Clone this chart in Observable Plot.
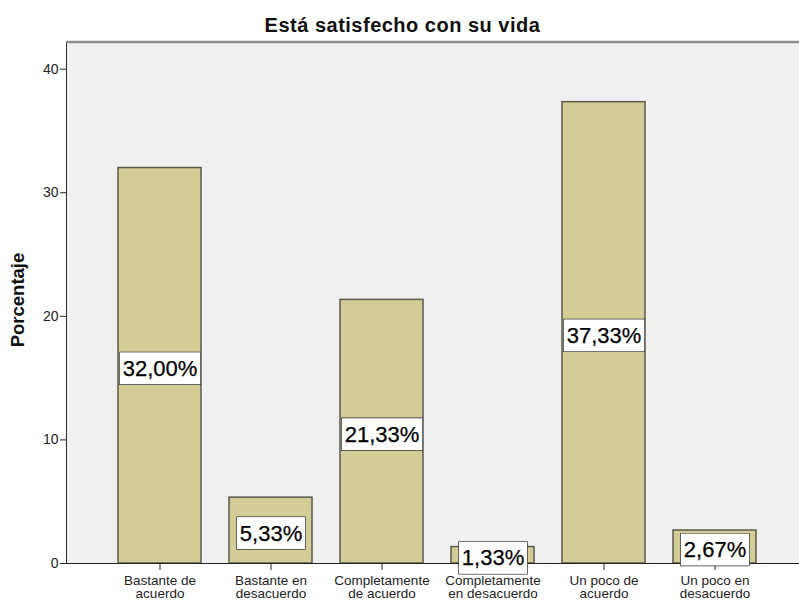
<!DOCTYPE html>
<html>
<head>
<meta charset="utf-8">
<script src="https://cdn.jsdelivr.net/npm/d3@7"></script>
<script src="https://cdn.jsdelivr.net/npm/@observablehq/plot@0.6"></script>
<style>
  html, body { margin: 0; padding: 0; background: #fff; overflow: hidden; }
  #wrap { position: relative; width: 799px; height: 602px; overflow: hidden; }
  #title { position: absolute; left: 3px; top: 14px; width: 799px; text-align: center; letter-spacing: 0.5px;
           font: bold 20px "Liberation Sans", Arial, sans-serif; color: #111; line-height: 22px; }
  #ylabel { position: absolute; left: 18px; top: 300px; transform: translate(-50%, -50%) rotate(-90deg);
            font: bold 18.5px "Liberation Sans", Arial, sans-serif; color: #111; white-space: nowrap; }
  svg { overflow: hidden; }
</style>
</head>
<body>
<div id="wrap">
  <div id="chart"></div>
  <div id="title">Está satisfecho con su vida</div>
  <div id="ylabel">Porcentaje</div>
</div>
<script>
const categories = ["Bastante de acuerdo", "Bastante en desacuerdo", "Completamente de acuerdo",
                    "Completamente en desacuerdo", "Un poco de acuerdo", "Un poco en desacuerdo"];
const categoryLabels = ["Bastante de\nacuerdo", "Bastante en\ndesacuerdo", "Completamente\nde acuerdo",
                        "Completamente\nen desacuerdo", "Un poco de\nacuerdo", "Un poco en\ndesacuerdo"];
const percentages = [32.00, 5.33, 21.33, 1.33, 37.33, 2.67];
const yTicks = [0, 10, 20, 30, 40];

const data = categories.map((c, i) => ({
  cat: c,
  value: percentages[i],
  label: d3.format(".2f")(percentages[i]).replace(".", ",") + "%"
}));
const tickLabel = new Map(categories.map((c, i) => [c, categoryLabels[i]]));

const svg = Plot.plot({
  width: 799,
  height: 602,
  marginLeft: 66,
  marginRight: -10,
  marginTop: 41.5,
  marginBottom: 39,
  style: { fontFamily: "'Liberation Sans', Arial, sans-serif", fontSize: "14px", background: "transparent", color: "#222" },
  x: { domain: categories, paddingInner: 0.25, paddingOuter: 0.457, axis: null },
  y: { domain: [0, 42.2], axis: null },
  marks: [
    Plot.frame({ fill: "#f0f0f0", stroke: "#2a2a2a" }),
    Plot.ruleY([42.2], { stroke: "#8c8c8c", strokeWidth: 2.5 }),
    Plot.barY(data, { x: "cat", y: "value", fill: "#d3ce97", stroke: "#5a5a4c", strokeWidth: 1.5 }),
    Plot.ruleY([0], { stroke: "#222" }),
    Plot.axisY({ ticks: yTicks, tickSize: 6, tickPadding: 2, fontSize: 14, label: null, stroke: "#222" }),
    Plot.axisX({ tickSize: 7, tickPadding: 6, fontSize: 13.5, lineHeight: 0.92, label: null,
                 tickFormat: d => tickLabel.get(d), stroke: "#222" }),
    Plot.text(data, { x: "cat", y: d => d.value / 2, text: "label", fontSize: 22, fill: "#000",
                      stroke: "#000", strokeWidth: 0.25, dy: 3 })
  ]
});
document.getElementById("chart").append(svg);

// draw boxed label backgrounds behind value labels
svg.querySelectorAll('g[aria-label="text"] text').forEach(t => {
  const b = t.getBBox();
  const r = document.createElementNS("http://www.w3.org/2000/svg", "rect");
  r.setAttribute("x", b.x - 3);
  r.setAttribute("y", b.y - 3.5);
  r.setAttribute("width", b.width + 6);
  r.setAttribute("height", b.height + 7);
  r.setAttribute("fill", "#fff");
  r.setAttribute("stroke", "#222");
  r.setAttribute("stroke-width", "1.3");
  if (t.getAttribute("transform")) r.setAttribute("transform", t.getAttribute("transform"));
  t.parentNode.insertBefore(r, t);
});
</script>
</body>
</html>
